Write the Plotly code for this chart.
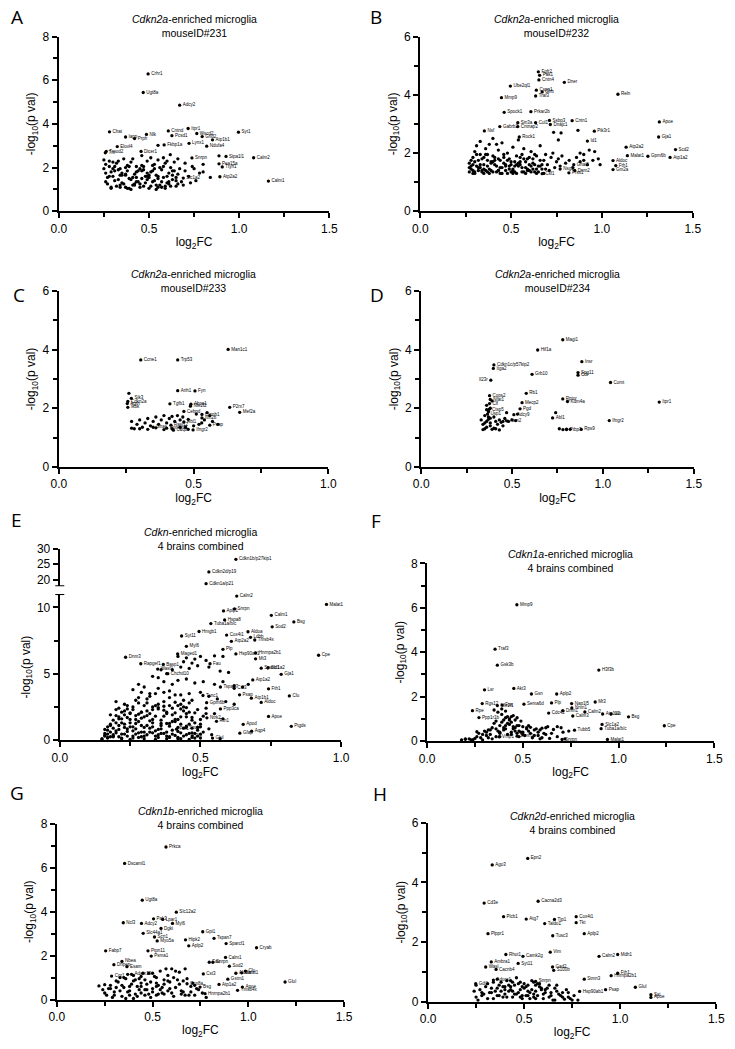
import plotly.graph_objects as go

W, H = 735, 1049
FONT = "Liberation Sans"

# ---------------- Panel A ----------------
a_genes = ["Crhr1","Ugt8a","Adcy2","Itpr1","Syt1","Chat","Nlk","Iapp","Prph","Cntnd",
           "Pcsd1","Wscd2","Grid2","Atp1b1","Fkbp1a","Lynx1","Ndufa4","Dicer1","Tmod2","Tnr",
           "Elovl4","Snrpn","Sipa1l1","Calm2","Pea15a","Ttyh1","Calm1","Atp2a2","Slc1a2"]
a_x = [0.495,0.468,0.670,0.717,0.996,0.281,0.486,0.370,0.420,0.607,
       0.627,0.765,0.795,0.852,0.584,0.722,0.820,0.456,0.263,0.258,
       0.324,0.738,0.927,1.080,0.888,0.906,1.162,0.893,0.690]
a_y = [6.29,5.44,4.86,3.79,3.62,3.64,3.52,3.40,3.33,3.68,
       3.46,3.56,3.42,3.27,3.04,3.11,2.98,2.74,2.74,2.68,
       2.96,2.44,2.51,2.45,2.17,2.03,1.38,1.58,1.52]
a_cx = [0.25,0.26,0.25,0.26,0.27,0.26,0.28,0.29,0.30,0.31,
        0.32,0.33,0.34,0.35,0.36,0.37,0.38,0.39,0.40,0.41,
        0.42,0.43,0.44,0.45,0.46,0.47,0.48,0.49,0.50,0.51,
        0.52,0.53,0.54,0.55,0.56,0.57,0.58,0.59,0.60,0.61,
        0.62,0.63,0.64,0.65,0.66,0.67,0.68,0.70,0.72,0.74,
        0.76,0.78,0.80,0.29,0.33,0.37,0.41,0.45,0.49,0.53,
        0.57,0.61,0.65,0.69,0.73,0.35,0.39,0.43,0.47,0.51,
        0.55,0.59,0.63,0.30,0.34,0.38,0.42,0.46,0.50,0.54,
        0.618,0.888,0.55,0.60,0.70,0.75,0.80,0.84,0.66,0.58]
a_cy = [2.35,2.15,1.95,1.75,1.55,1.35,2.05,1.80,1.60,1.40,
        2.20,1.90,1.65,1.30,2.40,1.10,1.85,1.50,2.25,1.20,
        1.70,2.05,1.35,1.95,2.55,1.15,1.60,2.30,1.05,1.80,
        2.10,1.40,1.65,2.35,1.20,1.90,1.55,2.20,1.30,1.75,
        2.00,1.45,2.25,1.15,1.70,1.95,1.35,1.85,1.60,2.05,
        1.40,1.75,2.15,1.10,1.45,2.00,1.55,1.25,1.45,1.95,
        1.10,1.25,1.55,1.20,1.30,1.65,1.05,1.80,1.90,2.45,
        1.60,1.05,1.85,1.95,1.20,2.10,1.25,2.10,1.65,1.00,
        2.59,2.54,3.02,2.30,2.20,1.95,1.80,1.55,2.40,2.45]
a_cx2 = [0.27,0.28,0.29,0.30,0.31,0.32,0.33,0.34,0.35,0.36,
         0.37,0.38,0.39,0.40,0.41,0.42,0.43,0.44,0.45,0.46,
         0.47,0.48,0.49,0.50,0.51,0.52,0.53,0.54,0.55,0.56,
         0.57,0.58,0.59,0.60,0.61,0.62,0.63,0.64,0.65,0.66,
         0.28,0.31,0.34,0.37,0.40,0.43,0.46,0.49,0.52,0.55]
a_cy2 = [1.25,2.30,1.05,2.25,1.85,1.15,2.30,1.95,1.75,1.25,
         1.65,1.05,2.05,1.45,2.40,1.20,1.55,1.85,1.10,1.50,
         2.05,1.30,1.75,1.55,1.15,1.35,2.15,1.20,1.50,2.00,
         1.35,2.05,1.15,1.60,1.35,1.15,1.65,1.85,1.40,1.25,
         1.60,2.05,1.10,1.70,1.00,1.35,1.85,1.60,1.85,1.10]

# ---------------- Panel B ----------------
b_genes = ["Fgfr2","Pak1","Cntn4","Dner","Reln","Ube2ql1","Cspp1","Glrb","Mmp9","Traf3",
           "Spock1","Prkar2b","Cntn1","Sin3a","Cul1","Ssbp3","Dnajc1","Gabrb2","Cntnap2","Nsf",
           "Apoe","Pik3r1","Gja1","Atp2a2","Scd2","Atp1a2","Gpm6b","Malat1","Aldoc","Fth1",
           "Gm2a","Id1","Rock1","Csf1","Prss1","Nsg2","Dnm2","Gnai2"]
b_x = [0.650,0.657,0.653,0.793,1.088,0.496,0.639,0.671,0.447,0.635,
       0.462,0.609,0.836,0.537,0.635,0.711,0.716,0.438,0.537,0.353,
       1.316,0.958,1.312,1.133,1.405,1.375,1.253,1.140,1.061,1.076,
       1.061,0.920,0.545,0.671,0.818,0.770,0.850,0.845]
b_y = [4.79,4.67,4.51,4.43,4.02,4.30,4.16,4.10,3.90,3.96,
       3.40,3.42,3.11,3.04,3.04,3.12,2.98,2.91,2.91,2.76,
       3.07,2.75,2.55,2.20,2.12,1.85,1.89,1.91,1.74,1.57,
       1.43,2.41,2.55,1.29,1.32,1.45,1.40,1.60]
b_cx = [0.27,0.28,0.27,0.29,0.28,0.30,0.29,0.31,0.30,0.32,
        0.33,0.34,0.33,0.35,0.36,0.35,0.37,0.38,0.37,0.39,
        0.40,0.41,0.40,0.42,0.43,0.44,0.43,0.45,0.46,0.47,
        0.48,0.49,0.50,0.51,0.52,0.51,0.53,0.54,0.55,0.56,
        0.57,0.58,0.59,0.60,0.61,0.62,0.63,0.64,0.65,0.66,
        0.67,0.68,0.69,0.70,0.71,0.72,0.73,0.74,0.75,0.76,
        0.77,0.78,0.80,0.82,0.84,0.86,0.88,0.90,0.92,0.95,
        0.30,0.32,0.34,0.36,0.38,0.40,0.42,0.44,0.46,0.48,
        0.50,0.52,0.54,0.56,0.58,0.60,0.62,0.64,0.66,0.68,
        0.31,0.35,0.39,0.43,0.47,0.51,0.55,0.59,0.63,0.67,
        0.734,0.775,0.868,0.760,0.930,0.960,0.980,0.990,0.900,0.880]
b_cy = [1.65,1.45,1.35,1.85,1.55,2.05,1.40,2.25,1.70,1.50,
        2.40,1.35,1.95,1.60,2.15,1.45,1.75,2.30,1.55,1.40,
        1.90,1.60,2.50,1.35,2.10,1.50,1.80,2.35,1.65,1.40,
        2.00,1.55,1.35,2.20,1.70,1.45,1.90,2.45,1.60,1.35,
        2.15,1.50,1.80,1.40,2.05,1.65,1.35,1.90,1.55,2.25,
        1.45,1.75,1.95,1.60,1.40,1.85,2.00,1.50,1.70,1.80,
        1.55,1.90,1.65,1.75,1.50,1.85,1.70,1.95,1.60,1.75,
        1.30,1.75,1.40,1.95,1.30,1.70,2.30,1.30,1.95,1.75,
        1.60,1.35,1.55,1.95,1.30,1.85,1.45,1.30,1.75,1.30,
        1.55,1.85,1.65,1.40,1.55,1.30,1.70,1.40,1.95,1.60,
        2.71,2.69,2.78,2.45,2.10,2.05,1.80,1.60,1.75,2.00]
b_cx2 = [0.27,0.28,0.29,0.30,0.31,0.32,0.33,0.34,0.35,0.36,
         0.37,0.38,0.39,0.40,0.41,0.42,0.43,0.44,0.45,0.46,
         0.47,0.48,0.49,0.50,0.51,0.52,0.53,0.54,0.55,0.56,
         0.57,0.58,0.59,0.60,0.61,0.62,0.63,0.64,0.65,0.66,
         0.29,0.33,0.37,0.41,0.45,0.49,0.53,0.57,0.61,0.69]
b_cy2 = [1.50,1.75,1.60,1.35,1.95,1.40,1.60,1.80,1.30,1.40,
         1.95,1.45,1.70,1.35,1.85,1.55,1.40,1.75,1.50,1.85,
         1.60,1.30,1.80,1.70,1.40,1.55,1.30,1.65,1.85,1.50,
         1.35,1.70,1.45,1.60,1.35,1.80,1.60,1.45,1.35,1.55,
         1.30,1.50,1.35,1.75,1.30,1.45,1.60,1.80,1.55,1.45]

# ---------------- Panel C ----------------
c_genes = ["Man1c1","Ccne1","Trp53","Arih1","Fyn","P2rx7","Mef2a","Tgfb1","Abca1","Nfe2l2",
           "Cebpd","Ctnnb1","Itm2b","Psap","Ifngr2","C1qc","Rasl12","Rbl1","Sik3","Cdkn2a",
           "Agrn","Ikbk","Pomgnt1","Gnas"]
c_x = [0.628,0.304,0.441,0.441,0.505,0.634,0.671,0.412,0.490,0.488,
       0.464,0.531,0.531,0.560,0.498,0.425,0.416,0.464,0.269,0.256,
       0.254,0.256,0.400,0.350]
c_y = [4.01,3.65,3.65,2.60,2.59,2.03,1.86,2.15,2.14,2.07,
       1.89,1.79,1.67,1.42,1.26,1.25,1.42,1.53,2.34,2.23,
       2.16,2.03,1.32,1.35]
c_cx = [0.26,0.27,0.28,0.29,0.30,0.31,0.32,0.33,0.34,0.35,
        0.36,0.37,0.38,0.39,0.40,0.41,0.42,0.43,0.44,0.45,
        0.46,0.47,0.48,0.50,0.51,0.53,0.54,0.56,0.57,0.59,
        0.27,0.30,0.33,0.36,0.39,0.42,0.45,0.48,0.52,0.55]
c_cy = [2.51,1.55,1.30,1.45,1.60,1.35,1.50,1.65,1.40,1.55,
        1.70,1.45,1.60,1.75,1.50,1.65,1.72,1.55,1.75,1.60,
        1.70,1.35,1.62,1.40,1.80,1.50,1.60,1.75,1.55,1.45,
        1.32,1.30,1.28,1.33,1.27,1.30,1.35,1.28,1.45,1.85]

# ---------------- Panel D ----------------
d_genes = ["Magi1","Hif1a","Insr","Cdkn1c/p57kip2","Itga2","Il23r","Grb10","Spg11","Cdt","Comt",
           "Itpr1","Rb1","Rptor","Kdm4a","Mecp2","Pgd","Adcy9","Abl1","Ifngr2","Rps9",
           "Ptbp3","Cops2","Nfat1","Clf","Ctsp5","Usp1","Atxn2"]
d_x = [0.779,0.641,0.884,0.400,0.397,0.383,0.610,0.863,0.863,1.042,
       1.310,0.578,0.779,0.805,0.555,0.544,0.510,0.723,1.035,0.881,
       0.800,0.376,0.380,0.376,0.373,0.365,0.470]
d_y = [4.34,3.99,3.59,3.48,3.36,2.96,3.16,3.22,3.13,2.88,
       2.21,2.51,2.32,2.23,2.19,1.98,1.78,1.67,1.58,1.28,
       1.27,2.43,2.30,2.16,1.96,1.80,1.57]
d_cx = [0.33,0.34,0.35,0.36,0.37,0.38,0.39,0.34,0.35,0.36,
        0.37,0.38,0.40,0.41,0.42,0.43,0.44,0.45,0.46,0.48,
        0.50,0.52,0.74,0.76,0.78,0.80,0.82,0.36,0.37,0.38,
        0.39,0.35,0.36,0.38,0.40,0.41,0.43,0.45,0.47,0.53]
d_cy = [1.60,1.45,1.30,1.55,1.70,1.40,1.28,1.27,1.50,1.35,
        1.62,1.50,1.32,1.55,1.45,1.60,1.52,1.55,1.65,1.55,
        1.60,1.58,1.85,1.30,1.27,1.29,1.28,2.10,1.88,2.00,
        2.25,1.75,1.95,1.66,1.70,1.30,1.26,1.40,1.85,1.80]

# ---------------- Panel E ----------------
e_up_genes = ["Cdkn1b/p27kip1","Cdkn2d/p19","Cdkn1a/p21"]
e_up_x = [0.626,0.530,0.520]
e_up_y = [26.6,22.55,18.8]
e_genes = ["Calm2","Malat1","Snrpn","Aplp1","Calm1","Hspa8","Bsg","Sod2","Tuba1a/b/c","Hmgb1",
           "Aldoa","Cox4i1","Ldhb","Tmsb4x","Syt11","Atp2a2","Myl6","Plp","Maged1","Hsp90ab1",
           "Hnrnpa2b1","Mt3","Cpe","Dnm3","Rapgef1","Basp1","Fau","Sparcl1","Slc1a2","Atp1a2",
           "Gja1","Tspan7","Fth1","Clu","Psap","Atp1b1","Aldoc","Ntrk2","Apoe","Apod",
           "Aqp4","Gfap","Ptgds","Dbi","Glul","Sncb","Pef1","Rtn1","Ppp3ca","Chchd10",
           "Cst3","Tenc1","Gpm6b","Wasf1"]
e_x = [0.629,0.948,0.621,0.582,0.752,0.586,0.832,0.755,0.537,0.495,
       0.669,0.593,0.678,0.693,0.433,0.610,0.450,0.580,0.419,0.626,
       0.696,0.696,0.920,0.234,0.288,0.368,0.534,0.716,0.740,0.686,
       0.787,0.571,0.742,0.816,0.639,0.681,0.716,0.523,0.742,0.652,
       0.682,0.640,0.823,0.471,0.543,0.449,0.415,0.557,0.571,0.384,
       0.620,0.509,0.522,0.348]
e_y = [10.85,10.22,9.88,9.73,9.40,9.05,8.90,8.53,8.78,8.18,
       8.16,7.91,7.74,7.54,7.84,7.44,7.06,6.84,6.49,6.49,
       6.57,6.12,6.39,6.24,5.75,5.70,5.75,5.42,5.45,4.53,
       4.95,4.00,3.86,3.33,3.41,3.16,2.84,1.68,1.78,1.19,
       0.67,0.52,1.04,0.32,0.15,0.94,0.82,1.41,2.35,5.00,
       3.90,3.36,2.82,5.35]
e_mx = [0.42,0.45,0.48,0.50,0.52,0.55,0.58,0.44,0.47,0.40,
        0.43,0.46,0.49,0.53,0.57,0.60,0.36,0.38,0.33,0.35,
        0.37,0.40,0.42,0.45,0.48,0.51,0.55,0.58,0.62,0.65,
        0.67,0.28,0.30,0.26,0.29,0.32,0.35,0.39,0.43,0.46,
        0.50,0.53,0.56,0.59,0.62,0.52,0.55,0.58,0.50,0.47]
e_my = [6.30,6.20,6.10,6.30,6.00,6.35,6.30,5.90,5.80,5.30,
        5.50,5.40,5.60,5.50,5.20,5.10,5.30,5.00,4.80,4.70,
        4.40,4.20,4.50,4.60,4.30,4.40,4.20,4.40,4.10,4.00,
        4.20,4.20,4.00,3.80,3.60,3.50,3.90,3.70,3.40,3.50,
        3.60,3.30,3.10,2.90,2.70,2.40,2.00,1.60,1.20,0.90]
e_dx = [0.15,0.16,0.17,0.18,0.19,0.20,0.21,0.22,0.23,0.24,
        0.15,0.16,0.17,0.18,0.19,0.20,0.21,0.22,0.23,0.24,
        0.25,0.26,0.27,0.28,0.29,0.30,0.31,0.32,0.33,0.34,
        0.25,0.26,0.27,0.28,0.29,0.30,0.31,0.32,0.33,0.34,
        0.35,0.36,0.37,0.38,0.39,0.40,0.41,0.42,0.43,0.44,
        0.35,0.36,0.37,0.38,0.39,0.40,0.41,0.42,0.43,0.44,
        0.45,0.46,0.47,0.48,0.49,0.50,0.51,0.52,0.18,0.20,
        0.22,0.24,0.26,0.28,0.30,0.32,0.34,0.36,0.38,0.40,
        0.42,0.44,0.46,0.48,0.50,0.19,0.21,0.23,0.25,0.27,
        0.29,0.31,0.33,0.35,0.37,0.39,0.41,0.43,0.45,0.47,
        0.17,0.21,0.25,0.29,0.33,0.37,0.41,0.45,0.49,0.23,
        0.27,0.31,0.35,0.39,0.43,0.47,0.16,0.20,0.24,0.28]
e_dy = [0.10,0.35,0.20,0.60,1.50,2.90,0.80,2.10,1.20,0.30,
        0.05,0.50,1.00,1.90,0.40,1.30,2.40,0.15,2.70,1.70,
        2.00,0.70,3.00,1.40,0.25,2.60,1.10,3.30,0.55,1.80,
        1.00,2.30,0.45,2.80,1.65,0.10,2.20,0.90,2.50,3.50,
        0.20,1.50,2.90,0.60,3.20,1.90,0.35,2.60,1.20,3.00,
        2.70,0.85,3.60,2.10,1.05,2.40,3.40,0.65,1.75,2.20,
        0.40,2.80,1.50,0.15,2.30,1.00,1.80,2.00,1.10,0.55,
        1.60,0.85,2.50,1.95,0.60,1.45,0.30,1.25,2.00,0.75,
        1.55,2.50,0.50,1.30,0.45,0.25,1.75,0.45,1.30,0.85,
        2.10,1.85,2.30,0.40,2.55,1.25,2.85,0.10,1.05,3.00,
        0.75,1.10,2.05,0.60,1.00,0.50,1.40,2.00,0.95,2.20,
        1.55,3.10,2.35,0.25,2.70,1.70,0.30,2.30,2.60,3.20]
e_dx2 = [0.16,0.17,0.18,0.19,0.20,0.21,0.22,0.23,0.24,0.25,
         0.26,0.27,0.28,0.29,0.30,0.31,0.32,0.33,0.34,0.35,
         0.36,0.37,0.38,0.39,0.40,0.41,0.42,0.43,0.44,0.45,
         0.46,0.47,0.48,0.49,0.50,0.17,0.19,0.21,0.23,0.25,
         0.27,0.29,0.31,0.33,0.35,0.37,0.39,0.41,0.43,0.45,
         0.47,0.49,0.18,0.20,0.22,0.24,0.26,0.28,0.30,0.32,
         0.34,0.36,0.38,0.40,0.42,0.44,0.46,0.48,0.51,0.53,
         0.22,0.26,0.30,0.34,0.38,0.42,0.46,0.50,0.54,0.57]
e_dy2 = [0.80,0.15,1.20,0.30,0.70,1.60,0.45,1.90,0.65,1.55,
         0.30,1.25,0.55,2.10,0.95,0.40,2.00,1.30,0.70,2.45,
         0.50,1.80,1.25,2.60,0.45,1.55,0.95,2.35,0.30,1.75,
         1.20,0.55,2.05,0.75,1.55,0.45,0.90,0.25,0.95,0.05,
         1.85,1.10,2.80,1.55,0.80,2.25,0.20,2.05,0.55,2.45,
         0.20,0.30,0.25,1.85,1.30,2.35,1.00,0.20,1.75,0.60,
         2.60,1.10,0.30,1.40,0.10,0.90,2.10,0.50,0.60,0.85,
         0.10,0.15,0.30,0.05,0.10,0.20,0.05,0.15,0.40,0.10]

# ---------------- Panel F ----------------
f_genes = ["Mmp9","Traf3","Gsk3b","H3f3b","Lsr","Akt3","Gsn","Aplp2","Rgs12","Mt3",
           "Plp","Sema6d","Nap1l5","Nrxn1","Nfe2l1","Fus","Rpe","Dnm1","Cdc42","Calm3",
           "Calm2","Atp1a2","Clu","Bsg","Cpe","Ppp1r1b","Slc1a2","Tuba1a/b/c","Tubb5","Vmp1",
           "Malat1","Snrpn","Stmn1"]
f_x = [0.469,0.355,0.367,0.897,0.300,0.453,0.545,0.677,0.288,0.878,
       0.650,0.506,0.755,0.756,0.367,0.392,0.237,0.709,0.635,0.761,
       0.824,0.917,0.961,1.052,1.239,0.271,0.914,0.909,0.770,0.376,
       0.942,0.705,0.470]
f_y = [6.14,4.14,3.42,3.20,2.31,2.37,2.12,2.12,1.69,1.76,
       1.72,1.66,1.69,1.49,1.60,1.62,1.37,1.37,1.26,1.13,
       1.31,1.22,1.22,1.09,0.69,1.06,0.75,0.56,0.49,0.19,
       0.07,0.07,0.22]
f_cx = [0.18,0.20,0.22,0.24,0.26,0.28,0.30,0.32,0.34,0.36,
        0.38,0.40,0.42,0.44,0.46,0.48,0.50,0.52,0.54,0.56,
        0.58,0.60,0.62,0.64,0.66,0.68,0.70,0.72,0.74,0.35,
        0.37,0.39,0.41,0.43,0.45,0.47,0.49,0.51,0.53,0.55,
        0.57,0.59,0.61,0.63,0.33,0.36,0.38,0.40,0.42,0.44,
        0.46,0.48,0.50,0.25,0.27,0.29,0.31,0.39,0.41,0.43]
f_cy = [0.05,0.08,0.10,0.06,0.42,0.15,0.45,0.50,0.10,0.55,
        0.70,0.95,1.10,0.85,0.60,0.45,0.65,0.55,0.62,0.50,
        0.40,0.58,0.30,0.12,0.52,0.20,0.60,0.10,0.45,1.40,
        1.30,1.20,1.05,0.75,1.15,0.35,0.90,0.25,0.70,0.15,
        0.55,0.10,0.35,0.65,0.30,0.20,0.40,0.60,0.80,0.30,
        0.95,0.70,0.40,0.12,0.35,0.05,0.25,1.45,1.35,1.00]
f_cx2 = [0.20,0.23,0.26,0.29,0.32,0.35,0.38,0.41,0.44,0.47,
         0.50,0.53,0.56,0.59,0.62,0.65,0.68,0.71,0.34,0.36,
         0.38,0.40,0.42,0.44,0.46,0.48,0.52,0.54,0.58,0.60,
         0.39,0.41,0.43,0.45,0.47,0.49,0.37,0.33,0.31,0.45]
f_cy2 = [0.10,0.05,0.20,0.30,0.15,0.80,0.35,0.55,0.40,0.70,
         0.30,0.45,0.25,0.50,0.60,0.35,0.65,0.40,0.60,0.90,
         0.20,0.50,0.30,1.10,0.45,0.20,0.60,0.35,0.25,0.15,
         0.85,0.70,0.95,0.55,1.05,0.40,0.45,0.50,0.40,0.65]

# ---------------- Panel G ----------------
g_genes = ["Prkca","Dscaml1","Ugt8a","Slc12a2","Pak3","Lpar1","Ncl3","Adcy2","Myl6","Dgki",
           "Gpi1","Slc44a1","Tspan7","Scrt1","Myo5a","Hipk2","Aplp2","Sparcl1","Cryab","Fabp7",
           "Ptpn11","Psma1","Calm1","Nbea","Dnpep","Esam","Fau","Snrpn","Sod2","Clu",
           "Malat1","Gstm1","Atp1a2","Apoe","Tmsb4x","Glul","Hnrnpa2b1","Aldoa","Cst3","Cox8a",
           "Bsg","Cnr1","Adam10"]
g_x = [0.570,0.354,0.446,0.624,0.505,0.553,0.347,0.442,0.604,0.544,
       0.762,0.451,0.821,0.510,0.524,0.672,0.689,0.884,1.043,0.255,
       0.476,0.493,0.881,0.340,0.298,0.366,0.796,0.815,0.901,0.985,
       0.965,0.893,0.847,0.969,0.944,1.192,0.774,0.935,0.765,0.680,
       0.748,0.286,0.390]
g_y = [6.95,6.20,4.53,3.98,3.68,3.65,3.50,3.47,3.47,3.24,
       3.09,3.02,2.79,2.85,2.67,2.72,2.45,2.55,2.36,2.22,
       2.22,1.98,1.92,1.74,1.59,1.50,1.70,1.70,1.52,1.30,
       1.22,0.93,0.69,0.57,0.42,0.80,0.27,1.20,1.17,0.72,
       0.57,1.07,1.15]
g_cx = [0.22,0.24,0.26,0.28,0.30,0.32,0.34,0.36,0.38,0.40,
        0.42,0.44,0.46,0.48,0.50,0.52,0.54,0.56,0.58,0.60,
        0.62,0.64,0.66,0.68,0.70,0.72,0.74,0.76,0.78,0.25,
        0.27,0.29,0.31,0.33,0.35,0.37,0.39,0.41,0.43,0.45,
        0.47,0.49,0.51,0.53,0.55,0.57,0.59,0.61,0.63,0.65,
        0.67,0.69,0.71,0.73,0.36,0.40,0.44,0.48,0.52,0.56]
g_cy = [0.62,0.45,0.20,0.65,0.35,0.80,0.15,0.95,0.40,1.10,
        0.60,0.30,0.90,1.20,0.50,0.75,1.30,0.25,0.85,1.40,
        0.55,1.25,0.35,0.95,0.60,0.20,0.45,0.30,0.10,0.68,
        0.50,0.10,0.85,0.40,0.55,1.15,0.70,0.25,0.95,1.20,
        0.45,0.10,1.05,0.65,0.30,1.40,0.80,0.15,0.90,0.40,
        1.40,0.20,0.75,0.50,0.05,0.05,0.60,0.25,0.20,0.70]
g_cx2 = [0.25,0.28,0.31,0.34,0.37,0.40,0.43,0.46,0.49,0.52,
         0.55,0.58,0.61,0.64,0.67,0.70,0.72,0.35,0.38,0.41,
         0.44,0.47,0.50,0.53,0.56,0.59,0.62,0.65,0.42,0.46,
         0.50,0.54,0.58,0.38,0.44,0.52,0.60,0.66,0.30,0.33]
g_cy2 = [0.30,0.50,0.55,0.65,0.35,0.85,0.45,0.20,0.80,1.00,
         0.55,0.40,1.00,0.70,0.20,0.35,0.65,1.00,0.20,0.90,
         1.05,0.70,0.35,0.25,0.90,0.50,1.30,0.25,0.15,0.45,
         1.20,0.45,1.10,0.60,0.75,0.60,0.30,0.85,0.20,1.00]

# ---------------- Panel H ----------------
h_genes = ["Epn2","Ago3","Cd3e","Cacna2d3","Plcb1","Atg7","Tjp1","Taldo1","Cox4i1","Tkt",
           "Plppr1","Tusc3","Aplp2","Vim","Calm2","Mdh1","Rhot1","Camk2g","Ambra1","Syt11",
           "Wasl","Cacnb4","Gad2","S100b","Fth1","Hnrnpa2b1","Stmn3","Glul","Psap","Hsp90ab1",
           "Sst","Apoe","Adora1","Snrpn","Gdi1"]
h_x = [0.519,0.334,0.292,0.573,0.393,0.511,0.658,0.607,0.771,0.771,
       0.312,0.649,0.813,0.636,0.890,0.987,0.405,0.494,0.329,0.469,
       0.300,0.354,0.648,0.654,0.987,0.953,0.813,1.079,0.924,0.789,
       1.160,1.160,0.340,0.560,0.248]
h_y = [4.81,4.59,3.31,3.37,2.85,2.77,2.76,2.62,2.85,2.65,
       2.28,2.21,2.28,1.66,1.52,1.58,1.58,1.52,1.33,1.28,
       1.16,1.08,1.16,1.05,0.95,0.87,0.75,0.48,0.40,0.34,
       0.23,0.14,0.72,0.68,0.60]
h_cx = [0.24,0.26,0.28,0.30,0.32,0.34,0.36,0.38,0.40,0.42,
        0.44,0.46,0.48,0.50,0.52,0.54,0.56,0.58,0.60,0.62,
        0.64,0.66,0.68,0.70,0.72,0.74,0.76,0.78,0.25,0.27,
        0.29,0.31,0.33,0.35,0.37,0.39,0.41,0.43,0.45,0.47,
        0.49,0.51,0.53,0.55,0.57,0.59,0.61,0.63,0.65,0.67,
        0.69,0.71,0.73,0.75,0.36,0.40,0.44,0.48,0.52,0.56]
h_cy = [0.35,0.05,0.20,0.50,0.30,0.10,0.45,0.65,0.25,0.55,
        0.15,0.80,0.40,0.60,0.20,0.70,0.35,0.50,0.10,0.45,
        0.30,0.05,0.25,0.15,0.40,0.10,0.20,0.05,0.15,0.40,
        0.25,0.60,0.45,0.35,0.55,0.15,0.70,0.40,0.25,0.60,
        0.10,0.50,0.30,0.65,0.20,0.45,0.30,0.55,0.05,0.35,
        0.20,0.08,0.30,0.05,0.75,0.50,0.35,0.15,0.55,0.10]
h_cx2 = [0.25,0.28,0.31,0.34,0.37,0.40,0.43,0.46,0.49,0.52,
         0.55,0.58,0.61,0.64,0.67,0.70,0.73,0.33,0.36,0.39,
         0.42,0.45,0.48,0.51,0.54,0.57,0.60,0.63,0.66,0.38,
         0.41,0.44,0.47,0.50,0.53,0.56,0.59,0.43,0.49,0.55]
h_cy2 = [0.55,0.30,0.10,0.65,0.20,0.40,0.70,0.25,0.50,0.35,
         0.15,0.60,0.40,0.20,0.55,0.30,0.15,0.30,0.20,0.50,
         0.35,0.55,0.65,0.20,0.40,0.60,0.25,0.15,0.45,0.35,
         0.15,0.65,0.30,0.45,0.10,0.55,0.40,0.50,0.20,0.25]

titles = ["<i>Cdkn2a</i>-enriched microglia<br>mouseID#231",
          "<i>Cdkn2a</i>-enriched microglia<br>mouseID#232",
          "<i>Cdkn2a</i>-enriched microglia<br>mouseID#233",
          "<i>Cdkn2a</i>-enriched microglia<br>mouseID#234",
          "<i>Cdkn</i>-enriched microglia<br>4 brains combined",
          "<i>Cdkn1a</i>-enriched microglia<br>4 brains combined",
          "<i>Cdkn1b</i>-enriched microglia<br>4 brains combined",
          "<i>Cdkn2d</i>-enriched microglia<br>4 brains combined"]
letters = ["A","B","C","D","E","F","G","H"]
LEFT_LABELS = {"Il23r"}

# ---------------- layout geometry (pixels) ----------------
def px_x(p): return p / W
def px_y(p): return 1 - p / H

panels = [
    (52, 329, 30, 207), (422, 701, 30, 207),
    (52, 328, 288, 466), (423, 702, 288, 466),
    (53, 341, 595, 743), (429, 723, 564, 744),
    (50, 344, 828, 1006), (430, 725, 827, 1008),
]
xranges = [[0,1.5],[0,1.5],[0,1.0],[0,1.5],[0,1.0],[0,1.5],[0,1.5],[0,1.5]]
yranges = [[0,8],[0,6],[0,6],[0,6],[0,11],[0,8],[0,8],[0,6]]
ydticks = [2,2,2,2,5,2,2,2]
title_y = [19, 19, 278, 278, 539.5, 561, 821.5, 827.5]
letter_pos = [(9,10),(377,10),(11,292),(378,292),(9,520),(377,521),(9,797),(381,798)]

fig = go.Figure()
layout = dict(width=W, height=H, margin=dict(l=0, r=0, t=0, b=0),
              paper_bgcolor="white", plot_bgcolor="white", showlegend=False,
              font=dict(family=FONT, color="black"))

axis_common = dict(showline=True, linewidth=2.2, linecolor="black", ticks="outside",
                   ticklen=5, tickwidth=2, tickcolor="black", showgrid=False,
                   zeroline=False, tickfont=dict(size=12, family=FONT, color="black"))

annotations = []
for i, (x0, x1, yt, yb) in enumerate(panels):
    n = i + 1
    xk = "xaxis" if n == 1 else f"xaxis{n}"
    yk = "yaxis" if n == 1 else f"yaxis{n}"
    layout[xk] = dict(domain=[px_x(x0), px_x(x1)], anchor=f"y{n}" if n > 1 else "y",
                      range=xranges[i], tick0=0, dtick=0.5, tickformat=".1f",
                      minor=dict(dtick=0.25, ticks="outside", ticklen=4, tickwidth=1.5, tickcolor="black"),
                      title=dict(text="log<sub>2</sub>FC", font=dict(size=12, family=FONT), standoff=3),
                      **axis_common)
    layout[yk] = dict(domain=[px_y(yb), px_y(yt)], anchor=f"x{n}" if n > 1 else "x",
                      range=yranges[i], tick0=0, dtick=ydticks[i],
                      minor=dict(dtick=ydticks[i] / 2, ticks="outside", ticklen=4, tickwidth=1.5, tickcolor="black"),
                      title=dict(text="-log<sub>10</sub>(p val)", font=dict(size=12, family=FONT), standoff=4),
                      **axis_common)
    annotations.append(dict(text=titles[i], x=(px_x(x0) + px_x(x1)) / 2, y=px_y(title_y[i]),
                            xref="paper", yref="paper", showarrow=False, xanchor="center",
                            yanchor="middle", font=dict(size=10.5, family=FONT)))
    lx, ly = letter_pos[i]
    annotations.append(dict(text=letters[i], x=px_x(lx), y=px_y(ly), xref="paper", yref="paper",
                            showarrow=False, xanchor="center", yanchor="middle",
                            font=dict(size=19, family="Open Sans")))

# E upper (broken) axis segment
layout["yaxis9"] = dict(domain=[px_y(587), px_y(549)], anchor="x5", range=[18, 30],
                        tickvals=[20, 25, 30], **axis_common)
layout["annotations"] = annotations
layout["shapes"] = [
    dict(type="line", xref="x5 domain", yref="y5", x0=-0.016, x1=0.016, y0=11, y1=11,
         line=dict(color="black", width=2)),
    dict(type="line", xref="x5 domain", yref="y9", x0=-0.016, x1=0.016, y0=18, y1=18,
         line=dict(color="black", width=2)),
]
fig.update_layout(**layout)

def add_points(cx, cy, xa, ya):
    fig.add_trace(go.Scatter(x=cx, y=cy, mode="markers", xaxis=xa, yaxis=ya,
                             marker=dict(color="black", size=3.3), cliponaxis=False, hoverinfo="skip"))

def add_labeled(genes, gx, gy, xa, ya):
    pos = ["middle left" if g in LEFT_LABELS else "middle right" for g in genes]
    fig.add_trace(go.Scatter(x=gx, y=gy, mode="markers+text", text=genes, textposition=pos,
                             xaxis=xa, yaxis=ya, cliponaxis=False,
                             textfont=dict(size=4.5, family=FONT, color="black"),
                             marker=dict(color="black", size=3.3)))

add_points(a_cx, a_cy, "x", "y");   add_points(a_cx2, a_cy2, "x", "y")
add_labeled(a_genes, a_x, a_y, "x", "y")
add_points(b_cx, b_cy, "x2", "y2"); add_points(b_cx2, b_cy2, "x2", "y2")
add_labeled(b_genes, b_x, b_y, "x2", "y2")
add_points(c_cx, c_cy, "x3", "y3"); add_labeled(c_genes, c_x, c_y, "x3", "y3")
add_points(d_cx, d_cy, "x4", "y4"); add_labeled(d_genes, d_x, d_y, "x4", "y4")
add_points(e_dx, e_dy, "x5", "y5"); add_points(e_dx2, e_dy2, "x5", "y5")
add_points(e_mx, e_my, "x5", "y5")
add_labeled(e_genes, e_x, e_y, "x5", "y5")
add_labeled(e_up_genes, e_up_x, e_up_y, "x5", "y9")
add_points(f_cx, f_cy, "x6", "y6"); add_points(f_cx2, f_cy2, "x6", "y6")
add_labeled(f_genes, f_x, f_y, "x6", "y6")
add_points(g_cx, g_cy, "x7", "y7"); add_points(g_cx2, g_cy2, "x7", "y7")
add_labeled(g_genes, g_x, g_y, "x7", "y7")
add_points(h_cx, h_cy, "x8", "y8"); add_points(h_cx2, h_cy2, "x8", "y8")
add_labeled(h_genes, h_x, h_y, "x8", "y8")

fig.write_html("out.html", config={"displayModeBar": False},
               post_script="document.body.style.margin='0px';document.body.style.overflow='hidden';")
